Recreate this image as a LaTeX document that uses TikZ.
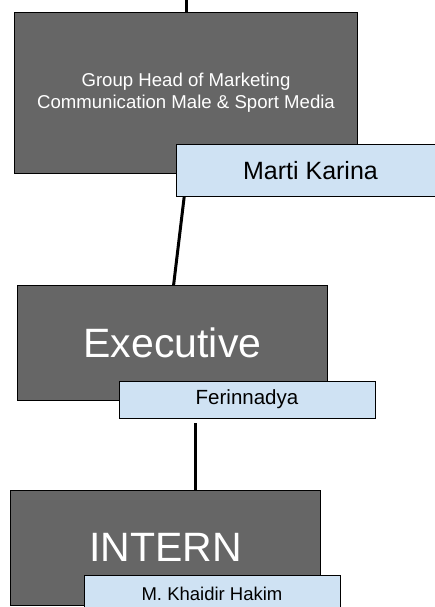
\documentclass[tikz,border=0pt]{standalone}
\usepackage{fontspec}
\setmainfont{Liberation Sans}
\usetikzlibrary{calc}
\definecolor{boxgray}{HTML}{666666}
\definecolor{namebl}{HTML}{CFE2F3}
\tikzset{
  rolebox/.style={draw=black, line width=1bp, fill=boxgray, text=white, inner sep=0pt, align=center},
  namebox/.style={draw=black, line width=1bp, fill=namebl, text=black, inner sep=0pt, align=center},
  link/.style={draw=black, line width=3bp}
}
\begin{document}
\begin{tikzpicture}[x=1bp,y=-1bp]
\useasboundingbox (0,0) rectangle (435,607);
\clip (0,0) rectangle (435,607);
\fill[white] (0,0) rectangle (435,607);
% connectors first (behind boxes)
\coordinate (top) at (186,0);
\coordinate (c1a) at (185,190);
\coordinate (c1b) at (173,290);
\coordinate (c2a) at (195,423);
\coordinate (c2b) at (195,495);
\draw[link] (top) -- (186,20);
\draw[link] (c1a) -- (c1b);
\draw[link] (c2a) -- (c2b);
% boxes
\node[rolebox, minimum width=342bp, minimum height=160bp, font=\fontsize{18.6bp}{22bp}\selectfont] (b1) at (186,93) {Group Head of Marketing\\Communication Male \& Sport Media};
\node[namebox, minimum width=269bp, minimum height=51bp, font=\fontsize{25bp}{30bp}\selectfont] (n1) at (310.5,170.5) {Marti Karina};
\node[rolebox, minimum width=309bp, minimum height=115bp, font=\fontsize{41bp}{48bp}\selectfont] (b2) at (172.5,342.5) {Executive};
\node[namebox, minimum width=256bp, minimum height=37bp, font=\fontsize{20.5bp}{24bp}\selectfont] (n2) at (247,399.5) {Ferinnadya};
\node[rolebox, minimum width=309bp, minimum height=115bp, font=\fontsize{41bp}{48bp}\selectfont] (b3) at (165.5,547.5) {INTERN};
\node[namebox, minimum width=256bp, minimum height=38bp, font=\fontsize{18.5bp}{22bp}\selectfont] (n3) at (212,594) {M. Khaidir Hakim};
\end{tikzpicture}
\end{document}
